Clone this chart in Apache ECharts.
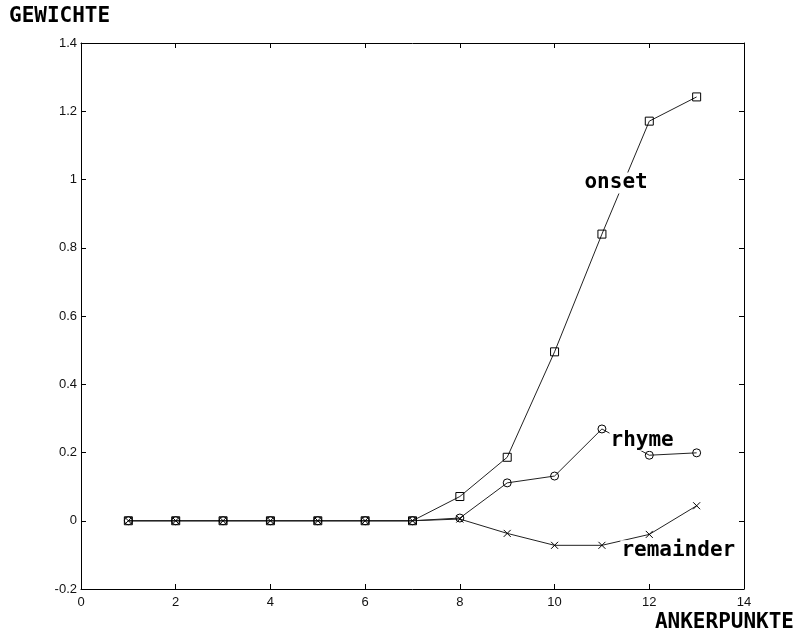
<!DOCTYPE html>
<html>
<head>
<meta charset="utf-8">
<script src="https://cdn.jsdelivr.net/npm/echarts@6/dist/echarts.min.js"></script>
<style>
  html, body { margin: 0; padding: 0; background: #fff; }
  #chart { width: 796px; height: 637px; }
</style>
</head>
<body>
<div id="chart"></div>
<script>
// Anchor points (x) and the three weight curves
const ankerpunkte = [1, 2, 3, 4, 5, 6, 7, 8, 9, 10, 11, 12, 13];
const onset     = [0, 0, 0, 0, 0, 0, 0, 0.071, 0.186, 0.495, 0.840, 1.171, 1.242];
const rhyme     = [0, 0, 0, 0, 0, 0, 0, 0.008, 0.111, 0.131, 0.269, 0.192, 0.199];
const remainder = [0, 0, 0, 0, 0, 0, 0, 0.005, -0.037, -0.072, -0.072, -0.040, 0.044];

// Curve labels and the data coordinates where they start
const curveLabels = [
  { text: 'onset',     at: [10.61, 0.99] },
  { text: 'rhyme',     at: [11.16, 0.236] },
  { text: 'remainder', at: [11.39, -0.088] }
];

const pairs = (ys) => ankerpunkte.map((x, i) => [x, ys[i]]);

const chart = echarts.init(document.getElementById('chart'), null, { renderer: 'canvas' });

const tickFont = { fontFamily: 'Liberation Sans', fontSize: 13, color: '#111' };
const titleFont = { fontFamily: 'DejaVu Sans Mono', fontWeight: 'bold', fontSize: 21, fill: '#000' };

const openMark = { color: 'transparent', borderColor: '#000', borderWidth: 1 };

const lineBase = {
  type: 'line',
  lineStyle: { color: '#222', width: 1 },
  animation: false,
  z: 3
};

function axisPair(kind, pos, withLabels, range) {
  const ax = {
    type: 'value', min: range[0], max: range[1], interval: range[2], position: pos,
    axisLine: { show: true, onZero: false, lineStyle: { color: '#000', width: 1 } },
    axisTick: { show: true, inside: true, length: 5, lineStyle: { color: '#000' } },
    splitLine: { show: false },
    axisLabel: { show: false }
  };
  if (withLabels) {
    ax.axisLabel = Object.assign({
      show: true,
      margin: kind === 'x' ? 7 : 4,
      formatter: (v) => String(Math.round(v * 10) / 10)
    }, tickFont);
  }
  return ax;
}

const baseGraphic = [
  { type: 'text', left: 9, top: 6, style: Object.assign({ text: 'GEWICHTE' }, titleFont) },
  { type: 'text', right: 2, top: 612, style: Object.assign({ text: 'ANKERPUNKTE' }, titleFont) }
];

chart.setOption({
  backgroundColor: '#fff',
  animation: false,
  grid: { left: 81, right: 52, top: 43, bottom: 48, show: false },
  xAxis: [
    axisPair('x', 'bottom', true, [0, 14, 2]),
    axisPair('x', 'top', false, [0, 14, 2])
  ],
  yAxis: [
    axisPair('y', 'left', true, [-0.2, 1.4, 0.2]),
    axisPair('y', 'right', false, [-0.2, 1.4, 0.2])
  ],
  series: [
    Object.assign({}, lineBase, {
      name: 'remainder',
      data: pairs(remainder),
      symbol: 'path://M0,0L10,10M10,0L0,10',
      symbolSize: 7,
      itemStyle: openMark
    }),
    Object.assign({}, lineBase, {
      name: 'rhyme',
      data: pairs(rhyme),
      symbol: 'circle',
      symbolSize: 8,
      itemStyle: openMark
    }),
    Object.assign({}, lineBase, {
      name: 'onset',
      data: pairs(onset),
      symbol: 'rect',
      symbolSize: 8,
      itemStyle: openMark
    })
  ],
  graphic: baseGraphic
});

// Curve labels sit at data coordinates on a white box that masks the line beneath
const labelGraphics = curveLabels.map((l) => {
  const p = chart.convertToPixel({ xAxisIndex: 0, yAxisIndex: 0 }, l.at);
  return {
    type: 'text', x: p[0], y: p[1],
    style: {
      text: l.text, fontFamily: 'DejaVu Sans Mono', fontWeight: 'bold', fontSize: 21,
      fill: '#000', align: 'left', verticalAlign: 'middle',
      backgroundColor: '#fff', padding: [0, 1, 0, 1]
    },
    z: 10
  };
});
chart.setOption({ graphic: baseGraphic.concat(labelGraphics) });
</script>
</body>
</html>
